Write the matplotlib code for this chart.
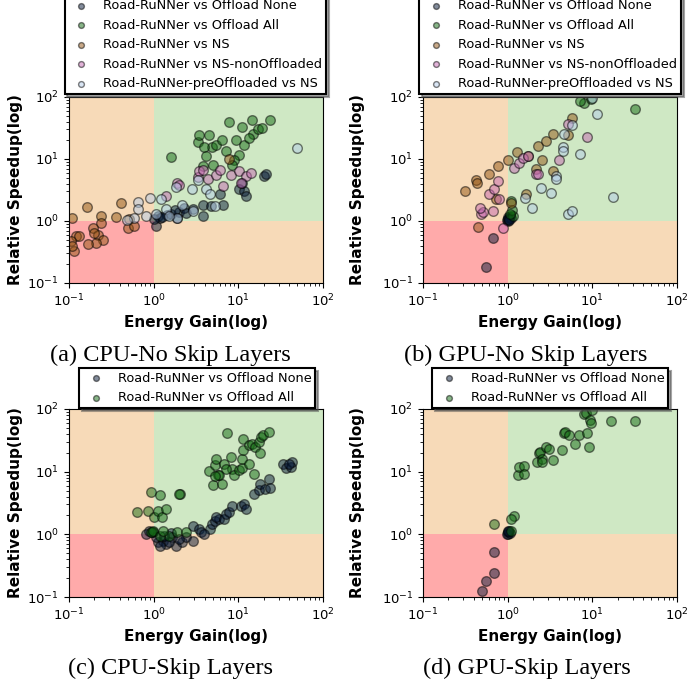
import matplotlib
matplotlib.use('Agg')
import matplotlib.pyplot as plt
import numpy as np
from matplotlib.patches import Rectangle

# all points as (log10 energy gain, log10 speedup)

# (a) CPU - no skip layers
a_none = [(0.03, -0.08), (0.05, 0.08), (0.07, 0.04), (0.20, 0.11), (0.30, 0.14),
          (0.36, 0.21), (0.38, 0.13), (0.46, 0.20), (0.58, 0.08), (0.58, 0.25),
          (0.78, 0.43), (0.82, 0.25), (1.01, 0.51), (1.07, 0.48), (1.09, 0.40),
          (1.30, 0.72), (1.33, 0.76), (0.28, 0.05), (0.68, 0.24), (0.01, 0.03),
          (0.16, 0.10), (1.04, 0.62), (0.25, 0.18), (0.10, 0.06)]
a_all = [(0.20, 1.03), (0.52, 1.28), (0.54, 1.38), (0.65, 1.38), (0.69, 1.19),
         (0.60, 1.20), (0.62, 1.04), (0.74, 1.22), (0.81, 1.31), (0.85, 1.13),
         (0.89, 1.60), (0.97, 1.31), (1.04, 1.52), (1.07, 1.22), (1.16, 1.63),
         (1.17, 1.41), (1.23, 1.49), (1.28, 1.50), (1.37, 1.63), (1.01, 1.06),
         (0.95, 0.98), (0.58, 0.88), (1.13, 1.34), (0.93, 0.90), (0.70, 0.90)]
a_ns = [(-0.96, 0.04), (-0.79, 0.22), (-0.38, 0.29), (-0.62, 0.08), (-0.45, 0.07),
        (-0.62, -0.03), (-0.72, -0.12), (-0.66, -0.23), (-0.60, -0.30), (-0.68, -0.35),
        (-0.78, -0.37), (-0.92, -0.24), (-0.88, -0.25), (-0.98, -0.32), (-0.94, -0.48),
        (-0.96, -0.40), (-0.29, 0.03), (-0.30, -0.11), (-0.23, -0.08), (0.89, 1.00),
        (-0.70, -0.20)]
a_nsno = [(0.15, 0.41), (0.28, 0.61), (0.30, 0.58), (0.52, 0.71), (0.54, 0.80),
          (0.64, 0.68), (0.74, 0.74), (0.82, 0.57), (0.91, 0.74), (1.01, 0.81),
          (1.09, 0.72), (1.03, 0.61), (0.78, 0.82), (0.58, 0.82), (1.15, 0.77)]
a_pre = [(-0.19, 0.30), (-0.04, 0.37), (-0.19, 0.20), (-0.23, 0.05), (-0.31, 0.02),
         (-0.09, 0.08), (0.09, 0.36), (0.15, 0.19), (0.26, 0.55), (0.34, 0.25),
         (0.28, 0.04), (0.62, 0.52), (0.66, 0.43), (0.72, 0.24), (0.52, 0.66),
         (1.69, 1.17), (0.46, 0.16), (0.03, 0.11), (0.18, 0.08), (0.45, 0.52)]

# (b) GPU - no skip layers
b_none = [(0.00, 0.00), (0.02, 0.04), (0.03, 0.08), (-0.01, 0.02), (0.01, 0.06),
          (0.04, 0.05), (-0.17, -0.28), (-0.26, -0.74), (0.00, 0.03), (0.02, 0.01)]
b_all = [(0.90, 1.91), (0.98, 1.97), (1.50, 1.81), (0.04, 0.32), (0.06, 0.08),
         (0.05, 0.18), (0.03, 0.12), (0.85, 1.93)]
b_ns = [(-0.50, 0.48), (-0.37, 0.66), (-0.36, 0.61), (-0.22, 0.76), (-0.11, 0.88),
        (0.01, 0.99), (0.11, 1.12), (0.24, 1.05), (0.36, 1.21), (0.45, 1.29),
        (0.54, 1.40), (0.71, 1.38), (0.76, 1.66), (0.33, 0.84), (0.40, 0.99),
        (0.53, 0.81), (0.22, 0.44), (0.04, 0.29), (-0.35, -0.10), (-0.14, 0.36)]
b_nsno = [(-0.05, -0.11), (-0.32, 0.11), (-0.29, 0.14), (-0.33, 0.21), (-0.22, 0.44),
          (-0.16, 0.51), (-0.11, 0.64), (-0.10, 0.36), (0.07, 0.85), (0.13, 0.93),
          (0.18, 1.02), (0.24, 1.04), (0.33, 0.76), (0.36, 0.76), (0.61, 0.99),
          (0.71, 1.57), (0.94, 1.35), (-0.17, 0.16)]
b_pre = [(1.06, 1.73), (0.76, 1.54), (0.67, 1.41), (0.65, 1.20), (0.65, 1.13),
         (0.86, 1.08), (0.39, 0.53), (0.57, 0.72), (0.57, 0.68), (0.51, 0.45),
         (0.21, 0.37), (0.29, 0.21), (0.71, 0.12), (0.76, 0.16), (1.25, 0.38),
         (1.00, 1.99)]

# (c) CPU - skip layers
c_none = [(-0.01, 0.03), (0.05, -0.12), (0.11, -0.10), (0.15, -0.15), (0.22, -0.05),
          (0.26, -0.18), (0.34, -0.13), (0.38, -0.04), (0.46, -0.10), (0.46, 0.14),
          (0.54, 0.09), (0.56, 0.04), (0.67, 0.09), (0.69, 0.17), (0.73, 0.22),
          (0.77, 0.25), (0.74, 0.28), (0.83, 0.25), (0.85, 0.32), (0.89, 0.36),
          (0.93, 0.45), (1.03, 0.45), (1.07, 0.49), (1.09, 0.41), (1.18, 0.65),
          (1.24, 0.71), (1.26, 0.81), (1.32, 0.73), (1.36, 0.88), (1.37, 0.74),
          (1.53, 1.12), (1.56, 1.06), (1.62, 1.08), (1.64, 1.15), (1.60, 1.13),
          (0.18, -0.12), (-0.09, 0.01), (-0.05, 0.06), (0.03, -0.04), (0.07, -0.18),
          (0.30, -0.08), (0.60, 0.00), (0.20, 0.02), (0.12, -0.02)]
c_all = [(-0.02, 0.04), (-0.03, 0.03), (-0.01, 0.06), (-0.20, 0.36), (-0.07, 0.37),
         (0.00, 0.28), (0.05, 0.37), (0.10, 0.28), (0.15, 0.41), (-0.03, 0.67),
         (0.07, 0.63), (0.31, 0.64), (0.30, 0.65), (0.18, -0.02), (0.28, 0.04),
         (0.38, 0.03), (0.07, -0.02), (0.11, 0.06), (0.65, 1.01), (0.70, 0.79),
         (0.72, 1.11), (0.74, 1.20), (0.76, 0.94), (0.81, 0.81), (0.83, 1.13),
         (0.87, 1.61), (0.91, 1.24), (0.92, 1.05), (0.95, 0.94), (1.01, 1.03),
         (1.04, 1.06), (1.04, 1.20), (1.06, 1.35), (1.06, 1.52), (1.13, 1.42),
         (1.13, 1.13), (1.16, 1.44), (1.18, 0.96), (1.20, 1.40), (1.24, 1.48),
         (1.26, 1.29), (1.27, 1.55), (1.29, 1.59), (1.36, 1.64), (0.77, 0.94),
         (0.85, 1.05), (0.73, 0.93)]

# (d) GPU - skip layers
d_none = [(0.00, 0.00), (0.01, 0.03), (0.02, 0.06), (-0.01, 0.01), (0.03, 0.02),
          (0.00, 0.05), (-0.16, -0.28), (-0.16, -0.61), (-0.26, -0.75), (-0.30, -0.90)]
d_all = [(-0.16, 0.17), (0.04, 0.06), (0.07, 0.29), (0.04, 0.24), (0.12, 0.94),
         (0.14, 1.08), (0.19, 1.09), (0.19, 0.97), (0.35, 1.15), (0.37, 1.29),
         (0.38, 1.32), (0.40, 1.20), (0.41, 1.16), (0.45, 1.39), (0.49, 1.36),
         (0.53, 1.19), (0.64, 1.34), (0.67, 1.61), (0.68, 1.63), (0.73, 1.59),
         (0.80, 1.44), (0.84, 1.59), (0.90, 1.92), (0.92, 1.94), (0.94, 1.61),
         (0.96, 1.40), (0.97, 1.83), (0.98, 1.78), (1.00, 1.99), (1.22, 1.81),
         (1.50, 1.81)]

labels = ['Road-RuNNer vs Offload None', 'Road-RuNNer vs Offload All',
          'Road-RuNNer vs NS', 'Road-RuNNer vs NS-nonOffloaded',
          'Road-RuNNer-preOffloaded vs NS']
colors = ['#081a38', '#126a12', '#935514', '#c468b2', '#b4cce8']

captions = ['(a) CPU-No Skip Layers', '(b) GPU-No Skip Layers',
            '(c) CPU-Skip Layers', '(d) GPU-Skip Layers']
lims = (0.1, 100)

panels = [
    ([a_none, a_all, a_ns, a_nsno, a_pre], [0.1004, 0.5893, 0.3697, 0.270], 0.2846, 1 - 94 / 689, 170, 355),
    ([b_none, b_all, b_ns, b_nsno, b_pre], [0.6157, 0.5893, 0.3697, 0.270], 0.8006, 1 - 94 / 689, 526, 355),
    ([c_none, c_all], [0.1004, 0.1335, 0.3697, 0.2729], 0.2868, 1 - 408 / 689, 171, 668),
    ([d_none, d_all], [0.6157, 0.1335, 0.3697, 0.2729], 0.8006, 1 - 408 / 689, 527, 668),
]


def draw_regions(ax):
    lo, hi = lims
    ax.add_patch(Rectangle((lo, lo), 1 - lo, 1 - lo, color='#ffaaaa', lw=0, zorder=0))
    ax.add_patch(Rectangle((lo, 1), 1 - lo, hi - 1, color='#f7dab8', lw=0, zorder=0))
    ax.add_patch(Rectangle((1, lo), hi - 1, 1 - lo, color='#f7dab8', lw=0, zorder=0))
    ax.add_patch(Rectangle((1, 1), hi - 1, hi - 1, color='#cfe8c4', lw=0, zorder=0))


fig = plt.figure(figsize=(6.87, 6.89), dpi=100)

for i, (series, rect, lx, ly, capx, capy) in enumerate(panels):
    ax = fig.add_axes(rect)
    ax.set_xscale('log')
    ax.set_yscale('log')
    ax.set_xlim(lims)
    ax.set_ylim(lims)
    draw_regions(ax)
    for pts, lab, col in zip(series, labels, colors):
        p = np.array(pts)
        ax.scatter(10 ** p[:, 0], 10 ** p[:, 1], s=48, c=col, alpha=0.5,
                   edgecolors='black', linewidths=1.0, label=lab, zorder=2)
    ax.tick_params(labelsize=9.5)
    ax.set_xlabel('Energy Gain(log)', fontsize=11, fontweight='bold')
    ax.set_ylabel('Relative Speedup(log)', fontsize=11, fontweight='bold')
    ax.yaxis.set_label_coords(-0.182 if i % 2 == 0 else -0.23, 0.5)
    leg = ax.legend(loc='lower center', bbox_to_anchor=(lx, ly),
                    bbox_transform=fig.transFigure, fontsize=9.3, shadow=True,
                    fancybox=False, framealpha=1, edgecolor='black',
                    markerscale=0.6, borderaxespad=0, borderpad=0.3,
                    handletextpad=0.7)
    leg.get_frame().set_linewidth(1.5)
    leg.set_zorder(10)
    fig.text(capx / 687, 1 - capy / 689, captions[i], ha='center', va='center',
             fontsize=17.5, family='Liberation Serif')

fig.savefig('out.png', dpi=100)
